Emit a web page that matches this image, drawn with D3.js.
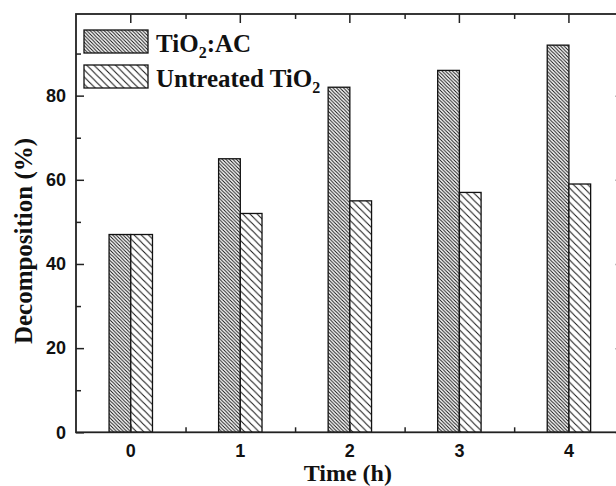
<!DOCTYPE html>
<html>
<head>
<meta charset="utf-8">
<script src="https://cdn.jsdelivr.net/npm/d3@7/dist/d3.min.js"></script>
<style>
  html, body { margin: 0; padding: 0; background: #fff; }
  svg { display: block; }
</style>
</head>
<body>
<script>
// ---- data ----
const categories = ["0", "1", "2", "3", "4"];
const acValues = [47, 65, 82, 86, 92];
const untreatedValues = [47, 52, 55, 57, 59];
const seriesNames = ["TiO2:AC", "Untreated TiO2"];
const yMajorTicks = [0, 20, 40, 60, 80];
const yMinorTicks = [10, 30, 50, 70, 90];
const xAxisTitle = "Time (h)";
const yAxisTitle = "Decomposition (%)";

// ---- layout ----
const W = 616, H = 486;
const pLeft = 76, pRight = 623.7, pTop = 14, pBottom = 432.3;

const svg = d3.select("body").append("svg")
  .attr("width", W).attr("height", H);

const defs = svg.append("defs");
function hatch(id, s) {
  const p = defs.append("pattern")
    .attr("id", id).attr("patternUnits", "userSpaceOnUse")
    .attr("width", s).attr("height", s);
  p.append("rect").attr("width", s).attr("height", s).attr("fill", "#fff");
  p.append("path")
    .attr("d", `M0,0L${s},${s}M${-s/2},${s/2}L${s/2},${s*1.5}M${s/2},${-s/2}L${s*1.5},${s/2}`)
    .attr("stroke", "#111").attr("stroke-width", 1).attr("fill", "none");
}
hatch("hatchAC", 3.5);
hatch("hatchUn", 7.2);

const x = d3.scaleBand().domain(categories).range([pLeft, pRight])
  .paddingInner(0.6037).paddingOuter(0.30185);
const x1 = d3.scaleBand().domain([0, 1]).range([0, x.bandwidth()]);
const y = d3.scaleLinear().domain([0, 99.4]).range([pBottom, pTop]);

const series = [
  { name: seriesNames[0], values: acValues, fill: "url(#hatchAC)" },
  { name: seriesNames[1], values: untreatedValues, fill: "url(#hatchUn)" }
];

// bars
series.forEach((s, si) => {
  svg.append("g").selectAll("rect")
    .data(s.values)
    .join("rect")
    .attr("x", (d, i) => x(categories[i]) + x1(si))
    .attr("width", x1.bandwidth())
    .attr("y", d => y(d))
    .attr("height", d => y(0) - y(d))
    .attr("fill", s.fill)
    .attr("stroke", "#111")
    .attr("stroke-width", 1.3);
});

// frame
svg.append("rect")
  .attr("x", pLeft).attr("y", pTop)
  .attr("width", pRight - pLeft).attr("height", pBottom - pTop)
  .attr("fill", "none").attr("stroke", "#222").attr("stroke-width", 1.8);

const sansFont = "'Liberation Sans', Arial, sans-serif";
const serifFont = "'Liberation Serif', 'Times New Roman', serif";

const xCenters = categories.map(c => x(c) + x.bandwidth() / 2);
const xScaleLin = d3.scaleLinear().domain([0, 4]).range([xCenters[0], xCenters[4]]);
const xMinorVals = [0.5, 1.5, 2.5, 3.5];

function styleAxis(g) {
  g.select(".domain").remove();
  g.selectAll(".tick line").attr("stroke", "#222").attr("stroke-width", 1.5);
  g.selectAll("text").attr("font-family", sansFont).attr("font-weight", "bold")
    .attr("font-size", 18).attr("fill", "#111");
}

// left axis
svg.append("g").attr("transform", `translate(${pLeft},0)`)
  .call(d3.axisLeft(y).tickValues(yMajorTicks).tickSize(-8).tickPadding(10).tickFormat(d3.format("d")))
  .call(styleAxis);
svg.append("g").attr("transform", `translate(${pLeft},0)`)
  .call(d3.axisLeft(y).tickValues(yMinorTicks).tickSize(-5).tickFormat(""))
  .call(styleAxis);
// right axis
svg.append("g").attr("transform", `translate(${pRight},0)`)
  .call(d3.axisRight(y).tickValues(yMajorTicks).tickSize(-8).tickFormat(""))
  .call(styleAxis);
svg.append("g").attr("transform", `translate(${pRight},0)`)
  .call(d3.axisRight(y).tickValues(yMinorTicks).tickSize(-5).tickFormat(""))
  .call(styleAxis);

// bottom axis
svg.append("g").attr("transform", `translate(0,${pBottom})`)
  .call(d3.axisBottom(x).tickSize(-8).tickPadding(12))
  .call(styleAxis);
svg.append("g").attr("transform", `translate(0,${pBottom})`)
  .call(d3.axisBottom(xScaleLin).tickValues(xMinorVals).tickSize(-5).tickFormat(""))
  .call(styleAxis);
// top axis
svg.append("g").attr("transform", `translate(0,${pTop})`)
  .call(d3.axisTop(x).tickSize(-9).tickFormat(""))
  .call(styleAxis);
svg.append("g").attr("transform", `translate(0,${pTop})`)
  .call(d3.axisTop(xScaleLin).tickValues(xMinorVals).tickSize(-5).tickFormat(""))
  .call(styleAxis);

// axis titles
svg.append("text")
  .attr("x", (pLeft + pRight) / 2 - 2).attr("y", 481)
  .attr("text-anchor", "middle")
  .attr("font-family", serifFont).attr("font-weight", "bold").attr("font-size", 24)
  .attr("fill", "#111")
  .text(xAxisTitle);

svg.append("text")
  .attr("transform", `translate(32,241) rotate(-90)`)
  .attr("text-anchor", "middle")
  .attr("font-family", serifFont).attr("font-weight", "bold").attr("font-size", 25)
  .attr("fill", "#111")
  .text(yAxisTitle);

// legend
const legendItems = [
  { label: ["TiO", "2", ":AC"], fill: "url(#hatchAC)", y: 30 },
  { label: ["Untreated TiO", "2", ""], fill: "url(#hatchUn)", y: 65 }
];
legendItems.forEach(item => {
  svg.append("rect")
    .attr("x", 84).attr("y", item.y).attr("width", 64).attr("height", 23)
    .attr("fill", item.fill).attr("stroke", "#111").attr("stroke-width", 1.3);
  const t = svg.append("text")
    .attr("x", 156).attr("y", item.y + 22)
    .attr("font-family", serifFont).attr("font-weight", "bold").attr("font-size", 25)
    .attr("fill", "#111");
  t.append("tspan").text(item.label[0]);
  t.append("tspan").attr("font-size", 16).attr("dy", 6).text(item.label[1]);
  if (item.label[2]) t.append("tspan").attr("dy", -6).text(item.label[2]);
});
</script>
</body>
</html>
